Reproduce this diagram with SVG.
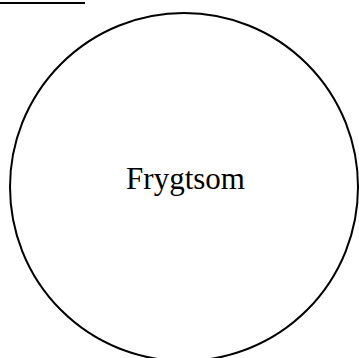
<svg xmlns="http://www.w3.org/2000/svg" width="359" height="358" viewBox="0 0 359 358">
<style>
.shape{fill:none;stroke:#000;stroke-width:2}
.lbl{font-family:"Liberation Serif","Times New Roman",serif;font-size:31px;fill:#000;text-anchor:middle}
</style>
<rect width="359" height="358" fill="#fff"/>
<g id="connectors">
<line class="shape" x1="0" y1="3" x2="85" y2="3"/>
</g>
<g id="node-frygtsom">
<circle class="shape" cx="184" cy="187" r="174"/>
<text class="lbl" x="185.5" y="189">Frygtsom</text>
</g>
</svg>
